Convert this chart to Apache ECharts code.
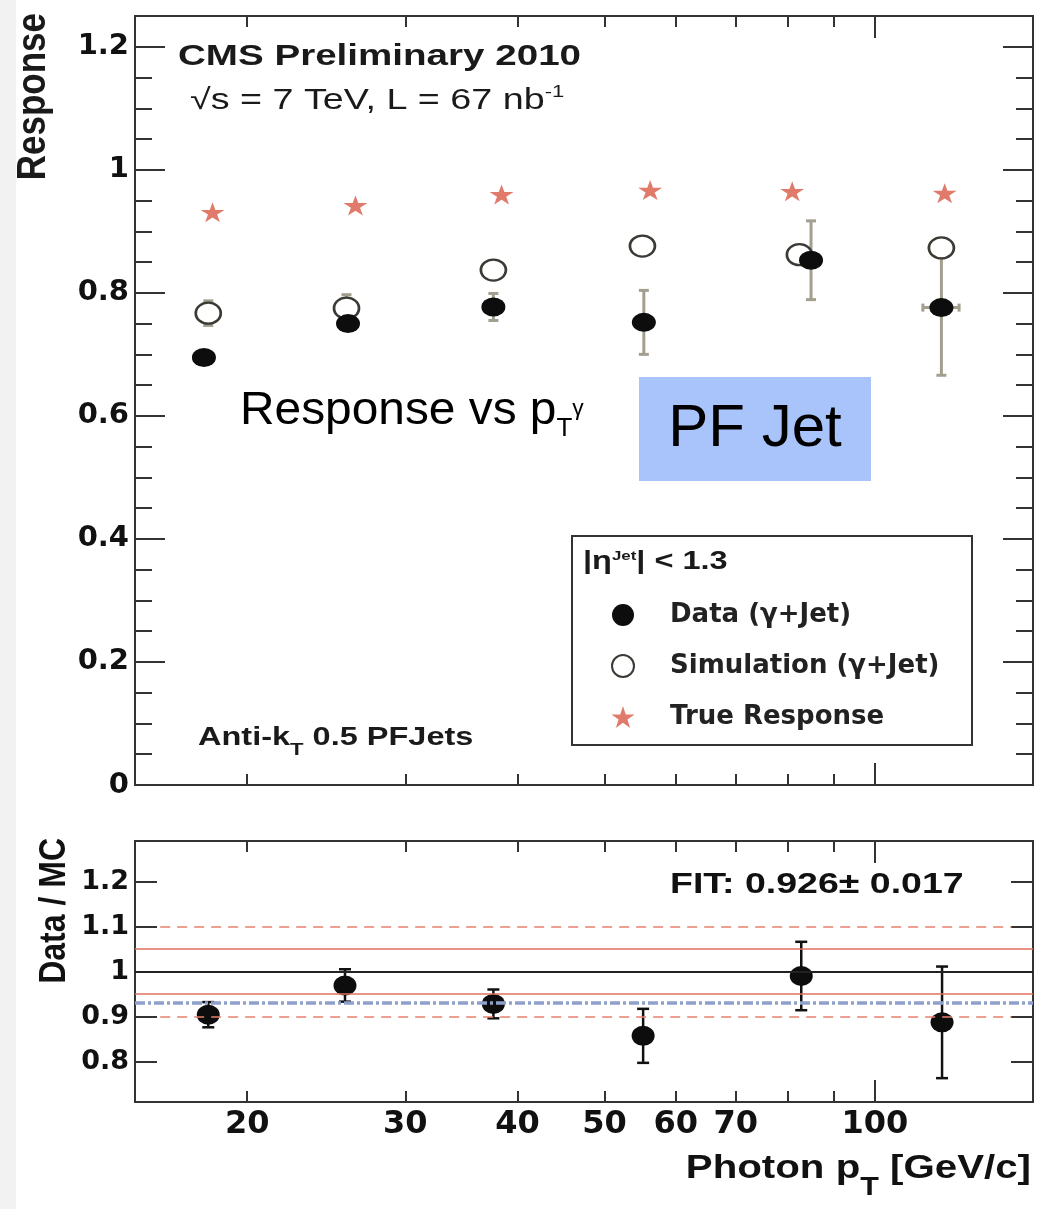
<!DOCTYPE html>
<html>
<head>
<meta charset="utf-8">
<script src="https://cdn.jsdelivr.net/npm/echarts@6/dist/echarts.min.js"></script>
<style>
  html, body { margin: 0; padding: 0; background: #fff; }
  #chart { width: 1039px; height: 1209px; }
</style>
</head>
<body>
<div id="chart"></div>
<script>
// photon pT per bin (GeV/c), each marker set is drawn slightly shifted
const ptData = [17.9, 25.9, 37.6, 55.3, 84.9, 118.6];
const ptSim = [18.1, 25.8, 37.6, 55.1, 82.4, 118.6];
const ptTrue = [18.3, 26.4, 38.4, 56.2, 80.9, 119.6];
const ptRatio = [18.1, 25.7, 37.6, 55.2, 82.8, 118.8];

// top panel: response
const respData = [0.695, 0.750, 0.777, 0.752, 0.853, 0.776];
const respDataErr = [0.008, 0.010, 0.022, 0.052, 0.064, 0.110];
const ptDataErr = [0, 0, 0, 0, 0, 5.5];
const respSim = [0.767, 0.775, 0.837, 0.876, 0.862, 0.873];
const respSimErr = [0.020, 0.022, 0.008, 0.008, 0.008, 0.008];
const respTrue = [0.931, 0.942, 0.960, 0.967, 0.965, 0.962];

// bottom panel: data / MC
const ratio = [0.904, 0.969, 0.928, 0.857, 0.990, 0.887];
const ratioErr = [0.028, 0.036, 0.032, 0.060, 0.076, 0.124];
const fitValue = 0.926;
const bandSolid = [0.95, 1.05];
const bandDashed = [0.9, 1.1];
const dashedRange = [16, 142];

// axis ticks and labels
const xMinorTicks = [20, 30, 40, 50, 60, 70, 80, 90];
const xMajorTicks = [100];
const xLabels = [20, 30, 40, 50, 60, 70, 100];
const respMajor = [0, 0.2, 0.4, 0.6, 0.8, 1.0, 1.2];
const respMinor = [0.05, 0.1, 0.15, 0.25, 0.3, 0.35, 0.45, 0.5, 0.55, 0.65, 0.7, 0.75,
  0.85, 0.9, 0.95, 1.05, 1.1, 1.15];
const ratioMajor = [0.8, 0.9, 1.0, 1.1, 1.2];

const frame = '#333';
const starPath = 'path://M0,-1L0.2245,-0.309L0.951,-0.309L0.3633,0.118L0.5878,0.809L0,0.382L-0.5878,0.809L-0.3633,0.118L-0.951,-0.309L-0.2245,-0.309Z';
const starColor = '#e07b6b';
const errGray = '#a39f8f';

const myChart = echarts.init(document.getElementById('chart'));

function xAxis(grid, pos, ticks, len, labels) {
  return {
    type: 'log', logBase: 10, gridIndex: grid, position: pos, min: 15, max: 150,
    axisLine: { show: true, onZero: false, lineStyle: { color: frame, width: 2 } },
    axisTick: { show: true, inside: true, length: len, customValues: ticks,
      lineStyle: { color: frame, width: 2 } },
    axisLabel: labels ? {
      show: true, customValues: labels, margin: 7,
      formatter: v => String(Math.round(v)),
      fontFamily: 'DejaVu Sans', fontWeight: 'bold', fontSize: 32, color: '#111'
    } : { show: false },
    splitLine: { show: false }
  };
}

function yAxis(grid, pos, min, max, ticks, len, labels, fontSize) {
  return {
    type: 'value', gridIndex: grid, position: pos, min: min, max: max,
    axisLine: { show: true, onZero: false, lineStyle: { color: frame, width: 2 } },
    axisTick: { show: true, inside: true, length: len, customValues: ticks,
      lineStyle: { color: frame, width: 2 } },
    axisLabel: labels ? {
      show: true, customValues: labels, margin: 6,
      formatter: v => String(+v.toFixed(2)),
      fontFamily: 'DejaVu Sans', fontWeight: 'bold', fontSize: fontSize, color: '#111'
    } : { show: false },
    splitLine: { show: false }
  };
}

function errBars(color, capW, width) {
  return function (params, api) {
    const x = api.value(0), y = api.value(1), ey = api.value(2), ex = api.value(3);
    const p = api.coord([x, y]);
    const top = api.coord([x, y + ey]);
    const bot = api.coord([x, y - ey]);
    const style = { stroke: color, lineWidth: width };
    const children = [
      { type: 'line', shape: { x1: p[0], y1: top[1], x2: p[0], y2: bot[1] }, style: style },
      { type: 'line', shape: { x1: p[0] - capW, y1: top[1], x2: p[0] + capW, y2: top[1] }, style: style },
      { type: 'line', shape: { x1: p[0] - capW, y1: bot[1], x2: p[0] + capW, y2: bot[1] }, style: style }
    ];
    if (ex > 0) {
      const l = api.coord([x - ex, y]);
      const r = api.coord([x + ex, y]);
      children.push({ type: 'line', shape: { x1: l[0], y1: p[1], x2: r[0], y2: p[1] }, style: style });
      children.push({ type: 'line', shape: { x1: l[0], y1: p[1] - 4, x2: l[0], y2: p[1] + 4 }, style: style });
      children.push({ type: 'line', shape: { x1: r[0], y1: p[1] - 4, x2: r[0], y2: p[1] + 4 }, style: style });
    }
    return { type: 'group', children: children };
  };
}

// text in the ROOT style; sub/sup tokens are shifted with padding
function rootText(x, y, text, size, opts) {
  opts = opts || {};
  const weight = opts.normal ? 'normal' : 'bold';
  const color = opts.color || '#1a1a1a';
  const lh = Math.round(size * 1.8);
  const subOff = opts.subOff || Math.round(size * 0.45);
  const supOff = opts.supOff || Math.round(size * 0.3);
  const base = { fontWeight: weight, fontFamily: 'Liberation Sans', verticalAlign: 'middle', fill: color };
  return {
    type: 'text', x: x, y: y, z: 100,
    rotation: opts.rotation || 0,
    scaleX: opts.sx || 1, scaleY: opts.sy || 1,
    style: {
      text: text,
      fill: color,
      font: weight + ' ' + size + 'px "Liberation Sans", Arial, sans-serif',
      textAlign: opts.align || 'left',
      textVerticalAlign: 'middle',
      rich: {
        n: Object.assign({ fontSize: size, lineHeight: lh }, base),
        sub: Object.assign({ fontSize: opts.subSize || Math.round(size * 0.62), padding: [2 * subOff, 0, 0, 0] }, base),
        sup: Object.assign({ fontSize: opts.supSize || Math.round(size * 0.58), padding: [0, 0, 2 * supOff, 0] }, base)
      }
    }
  };
}

function dashedBand(v) {
  return [
    { coord: [dashedRange[0], v], lineStyle: { color: '#e8806e', width: 1.5, type: [10, 7] } },
    { coord: [dashedRange[1], v] }
  ];
}

const option = {
  backgroundColor: '#fff',
  animation: false,
  grid: [
    { left: 135, top: 16, right: 6, height: 769 },
    { left: 135, top: 841, right: 6, height: 261 }
  ],
  xAxis: [
    xAxis(0, 'bottom', xMinorTicks, 11),
    xAxis(0, 'bottom', xMajorTicks, 22),
    xAxis(0, 'top', xMinorTicks, 11),
    xAxis(0, 'top', xMajorTicks, 22),
    xAxis(1, 'bottom', xMinorTicks, 11, xLabels),
    xAxis(1, 'bottom', xMajorTicks, 22),
    xAxis(1, 'top', xMinorTicks, 11),
    xAxis(1, 'top', xMajorTicks, 22)
  ],
  yAxis: [
    yAxis(0, 'left', 0, 1.25, respMajor, 30, respMajor, 29),
    yAxis(0, 'left', 0, 1.25, respMinor, 17),
    yAxis(0, 'right', 0, 1.25, respMajor, 30),
    yAxis(0, 'right', 0, 1.25, respMinor, 17),
    yAxis(1, 'left', 0.71, 1.29, ratioMajor, 22, ratioMajor, 27),
    yAxis(1, 'right', 0.71, 1.29, ratioMajor, 22)
  ],
  legend: {
    orient: 'vertical', left: 606, top: 597,
    itemWidth: 84, itemHeight: 22, itemGap: 25,
    selectedMode: false,
    textStyle: { fontFamily: 'DejaVu Sans', fontWeight: 'bold', fontSize: 26, color: '#222' },
    data: ['Data (γ+Jet)', 'Simulation (γ+Jet)', 'True Response']
  },
  series: [
    {
      name: 'dataErr', type: 'custom', xAxisIndex: 0, yAxisIndex: 0, z: 2,
      renderItem: errBars(errGray, 5, 3),
      encode: { x: 0, y: 1 },
      data: ptData.map((x, i) => [x, respData[i], respDataErr[i], ptDataErr[i]])
    },
    {
      name: 'simErr', type: 'custom', xAxisIndex: 0, yAxisIndex: 0, z: 2,
      renderItem: errBars(errGray, 5, 3),
      encode: { x: 0, y: 1 },
      data: ptSim.map((x, i) => [x, respSim[i], respSimErr[i], 0])
    },
    {
      name: 'Simulation (γ+Jet)', type: 'scatter', xAxisIndex: 0, yAxisIndex: 0, z: 3,
      symbol: 'circle', symbolSize: [25, 21],
      itemStyle: { color: '#fff', borderColor: '#3b3a35', borderWidth: 2.5, opacity: 1 },
      data: ptSim.map((x, i) => [x, respSim[i]])
    },
    {
      name: 'Data (γ+Jet)', type: 'scatter', xAxisIndex: 0, yAxisIndex: 0, z: 4,
      symbol: 'circle', symbolSize: [24, 19],
      itemStyle: { color: '#0d0d0d', opacity: 1 },
      data: ptData.map((x, i) => [x, respData[i]])
    },
    {
      name: 'True Response', type: 'scatter', xAxisIndex: 0, yAxisIndex: 0, z: 3,
      symbol: starPath, symbolSize: [24, 20],
      itemStyle: { color: starColor, opacity: 1 },
      data: ptTrue.map((x, i) => [x, respTrue[i]])
    },
    {
      name: 'ratioErr', type: 'custom', xAxisIndex: 4, yAxisIndex: 4, z: 2,
      renderItem: errBars('#111', 6, 2.5),
      encode: { x: 0, y: 1 },
      data: ptRatio.map((x, i) => [x, ratio[i], ratioErr[i], 0]),
      markLine: {
        silent: true, symbol: 'none', label: { show: false },
        data: [
          dashedBand(bandDashed[1]),
          { yAxis: bandSolid[1], lineStyle: { color: '#e0705f', width: 1.5, type: 'solid' } },
          { yAxis: 1.0, lineStyle: { color: '#222', width: 2, type: 'solid' } },
          { yAxis: bandSolid[0], lineStyle: { color: '#e0705f', width: 1.5, type: 'solid' } },
          { yAxis: fitValue, lineStyle: { color: '#8fa0cc', width: 3.5, type: [10, 3, 3, 3] } },
          dashedBand(bandDashed[0])
        ]
      }
    },
    {
      name: 'Data / MC', type: 'scatter', xAxisIndex: 4, yAxisIndex: 4, z: 4,
      symbol: 'circle', symbolSize: [23, 20],
      itemStyle: { color: '#0d0d0d', opacity: 1 },
      data: ptRatio.map((x, i) => [x, ratio[i]])
    }
  ],
  graphic: [
    { type: 'rect', x: 0, y: 0, z: -10, shape: { width: 16, height: 1209 }, style: { fill: '#f2f2f2' } },
    rootText(178, 57, '{n|CMS Preliminary 2010}', 29, { sx: 1.33 }),
    rootText(190, 101, '{n|√s = 7 TeV, L = 67 nb}{sup|-1}', 29, { sx: 1.3, normal: true, supSize: 17, supOff: 9 }),
    rootText(198, 738, '{n|Anti-k}{sub|T}{n| 0.5 PFJets}', 25, { sx: 1.3, subSize: 17, subOff: 12 }),
    rootText(670, 885, '{n|FIT: 0.926± 0.017}', 30, { sx: 1.25, color: '#111' }),
    rootText(1031, 1169, '{n|Photon p}{sub|T}{n| [GeV/c]}', 33, { sx: 1.22, align: 'right', color: '#111', subSize: 25, subOff: 19 }),
    rootText(34, 13, '{n|Response}', 35, { rotation: Math.PI / 2, sy: 1.15, align: 'right' }),
    rootText(55, 838, '{n|Data / MC}', 32, { rotation: Math.PI / 2, sy: 1.15, align: 'right', color: '#111' }),
    {
      type: 'rect', x: 572, y: 536, z: 1,
      shape: { width: 400, height: 209 },
      style: { fill: '#fff', stroke: '#333', lineWidth: 2 }
    },
    rootText(583, 562, '{n||η}{sup|Jet}{n|| < 1.3}', 25, { sx: 1.3, supSize: 13, supOff: 6 }),
    rootText(240, 411, '{n|Response vs p}{sub|T}{sup|γ}', 46, { normal: true, sx: 1.04, color: '#000', subSize: 25, subOff: 18, supSize: 22, supOff: 2 }),
    {
      type: 'rect', x: 639, y: 377, z: 90,
      shape: { width: 232, height: 104 },
      style: { fill: '#a9c4fa' }
    },
    {
      type: 'text', x: 755, y: 429, z: 100,
      style: {
        text: 'PF Jet', fill: '#000',
        font: '60px "Liberation Sans", Arial, sans-serif',
        textAlign: 'center', textVerticalAlign: 'middle'
      }
    }
  ]
};

myChart.setOption(option);
</script>
</body>
</html>
